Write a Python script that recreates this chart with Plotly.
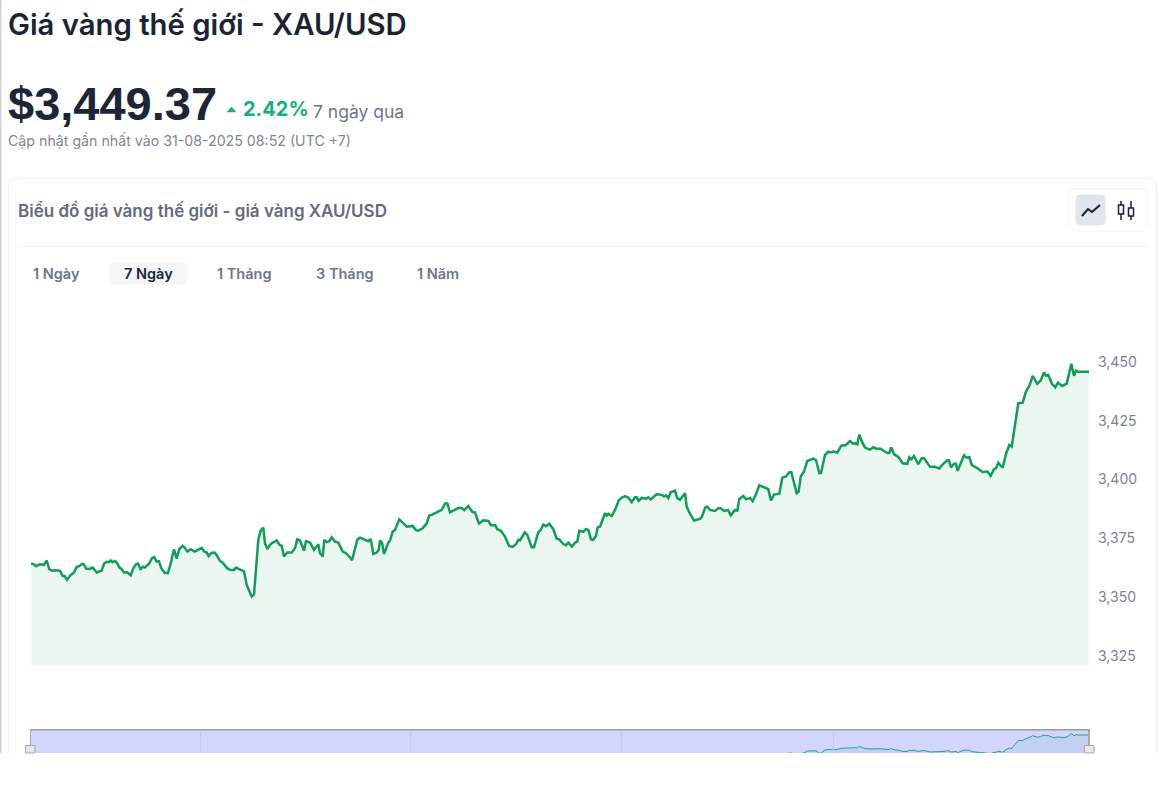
import plotly.graph_objects as go

W, H = 1162, 808

# Elapsed position along the 7-day window (arbitrary time units, 0..1058)
elapsed = [
0,3,5,9,13,15.7,18.3,21,25,29,31.7,33.7,36,39.7,43,45.7,48.3,51,53,55,58.3,61.7,65.7,70.7,73,75.7,78.3,79.7,81.7,84,86.3,88.3,90.7,93,96.3,99.7,102.3,105,107,109.7,111.7,113.7,117.7,121,123,125.7,128,130.3,133.7,137,139.7,143,145.7,148.3,151.7,153.7,156.3,159.7,163.7,168.3,170.7,173,175.7,177.7,180.3,183.7,186.3,189,191.7,196.3,199,203,205,208.3,213,215.7,219,220.7,223,225,227.3,229.7,232.3,234,236.3,239.7,243,245.7,248.3,250.7,253,256.3,260.7,264,266.3,269,273,275,279,283,287.3,289,291.7,293.3,295.7,298.3,300.7,304,307.3,311.7,315,318.3,321,324.3,326.3,329,333,337.3,339.7,342.3,345.7,347.7,349,351,353,357,
359,361.7,364,368.3,371.7,375.7,381.7,385,387.3,391.7,395.7,398.3,400.7,405.7,410.7,414,416.3,419,422.3,427.3,430.7,433.3,437.3,441.3,444,448,452.3,457.3,460,464.3,466.3,469.7,474,478,481.7,485,487.3,489,493.7,496.3,500.7,503,507.3,509.7,512.3,515,518.3,522.3,525.7,528.3,532.3,535,537.3,541,544,546.3,548.3,552.3,555,557.3,560,562.3,565,566.7,569,574,575.7,577.3,580.7,584,587.7,590.7,594,597.3,600.7,604,605.7,607.7,610.7,615,617.3,619.7,625.7,630.7,633,635,637.3,639.7,644,646.3,649,654,655.7,658.3,663,669,671,674.3,676.3,679,684,687.3,689.7,693,697,699.7,704,706.3,708.3,712.3,715,719,721.7,724.7,728.3,
732.3,737.3,740,743,748.3,751.3,755,758.3,760.3,763,765.7,767.7,769.7,773,776.3,782.3,785,788.3,790,794,797.3,799,802.3,806.3,810.3,815,819,821.7,825,826.3,828.3,831,834,839,842.3,845.7,849,856.3,858.3,860.3,863,867.3,871.7,876.3,878.3,880.3,883,887.3,890.7,893,899,904,908.3,911.7,916.3,918,920,923,925,926.7,933,935.7,938.3,940.7,945.7,951.7,956.3,959.7,963,965,967.3,971.7,975,978.3,980.7,987.3,991.7,995,998.3,1001.7,1006.3,1009.7,1013,1015,1017.3,1020.7,1024.3,1027,1031,1035.7,1040.3,1043,1045,1047.3,1058]

price = [
3364.4,3364.0,3363.2,3364.0,3363.7,3365.6,3361.9,3361.3,3361.5,3361.2,3359.0,3359.0,3357.3,3359.5,3360.5,3362.9,3363.2,3364.2,3363.9,3362.2,3362.0,3362.6,3360.5,3361.3,3364.2,3365.1,3365.0,3365.6,3364.9,3365.4,3364.4,3362.7,3361.9,3360.5,3360.6,3359.3,3362.3,3364.0,3364.3,3361.7,3363.0,3362.6,3364.0,3366.6,3367.0,3365.1,3365.3,3362.3,3360.3,3360.3,3364.4,3370.4,3366.4,3370.5,3371.8,3371.1,3369.4,3370.4,3369.4,3370.4,3371.0,3369.5,3369.0,3367.5,3368.8,3369.0,3367.5,3365.4,3364.7,3362.2,3361.7,3361.6,3362.6,3361.9,3361.0,3355.2,3351.4,3350.3,3351.1,3363.0,3374.4,3378.3,3379.6,3372.9,3370.5,3372.6,3373.6,3374.1,3372.4,3371.8,3367.3,3369.0,3369.0,3370.8,3374.6,3374.1,3369.8,3373.8,3373.2,3370.1,3372.5,3368.7,3367.3,3374.4,3373.4,3373.8,3375.5,3373.6,3373.2,3369.4,3368.7,3367.3,3365.7,3370.8,3374.4,3375.3,3374.6,3373.8,3374.8,3368.4,3369.0,3370.1,3374.1,3373.2,3368.3,3372.9,
3374.1,3377.9,3378.6,3383.1,3381.7,3380.0,3380.3,3378.5,3378.3,3379.3,3381.4,3384.8,3385.0,3386.1,3387.1,3389.8,3389.9,3386.1,3386.7,3387.9,3387.9,3387.0,3388.8,3386.3,3386.0,3381.3,3382.7,3382.4,3380.6,3380.6,3378.9,3378.3,3375.8,3371.8,3371.4,3372.5,3374.4,3374.1,3377.6,3376.5,3371.2,3371.2,3377.6,3378.6,3380.9,3380.2,3381.2,3378.9,3374.9,3374.6,3372.6,3372.1,3373.2,3371.5,3373.2,3373.6,3378.2,3377.8,3379.0,3378.6,3374.6,3374.4,3376.1,3379.7,3380.0,3385.7,3384.7,3385.4,3384.5,3387.1,3391.1,3392.3,3393.0,3392.3,3390.4,3392.5,3392.5,3390.9,3392.2,3391.9,3392.5,3391.5,3393.8,3393.5,3392.8,3393.3,3392.1,3394.6,3395.3,3392.1,3391.4,3394.2,3388.5,3386.0,3382.6,3383.3,3384.3,3388.2,3388.5,3387.1,3386.7,3387.8,3387.8,3386.7,3387.1,3384.8,3387.1,3386.8,3391.8,3393.0,3391.6,3392.2,3390.8,3393.5,3397.6,
3396.9,3395.9,3391.1,3393.6,3394.0,3400.8,3401.3,3403.1,3403.1,3398.4,3394.2,3394.9,3401.3,3403.4,3407.9,3408.9,3408.3,3402.7,3402.8,3410.5,3411.9,3411.5,3411.9,3411.5,3414.4,3414.7,3416.4,3415.3,3415.4,3415.0,3419.1,3416.1,3413.6,3412.7,3413.7,3413.0,3413.2,3411.3,3411.3,3413.6,3410.8,3409.6,3406.9,3406.7,3409.5,3408.6,3410.0,3406.5,3409.1,3409.1,3405.4,3405.4,3404.7,3406.5,3408.2,3408.1,3405.2,3406.7,3406.7,3403.7,3410.3,3409.3,3409.6,3406.2,3405.0,3403.1,3403.5,3401.6,3404.4,3404.8,3407.1,3405.0,3410.9,3414.7,3414.0,3432.4,3432.7,3437.4,3439.8,3444.1,3440.7,3442.1,3445.5,3444.1,3444.5,3440.9,3439.2,3441.2,3439.8,3440.8,3449.2,3444.1,3446.3,3445.8,3445.8]

y_ticks = [3325, 3350, 3375, 3400, 3425, 3450]
y_tick_labels = ["3,325", "3,350", "3,375", "3,400", "3,425", "3,450"]
range_tabs = ["1 Ngày", "7 Ngày", "1 Tháng", "3 Tháng", "1 Năm"]

FONT = "Inter"
px = lambda x: x / W
py = lambda y: 1 - y / H

fig = go.Figure()
fig.add_trace(go.Scatter(x=elapsed, y=price, mode="lines", xaxis="x", yaxis="y",
                         line=dict(color="#0f9d58", width=2.5, shape="linear"),
                         fill="tozeroy", fillcolor="#ecf6f1", hoverinfo="skip", showlegend=False))
fig.add_trace(go.Scatter(x=elapsed, y=price, mode="lines", xaxis="x2", yaxis="y2",
                         line=dict(color="#2b9c90", width=1),
                         fill="tozeroy", fillcolor="#c0cff2", hoverinfo="skip", showlegend=False))


def rect(x0, y0, x1, y1, **kw):
    return dict(type="rect", xref="paper", yref="paper", x0=px(x0), x1=px(x1),
                y0=py(y1), y1=py(y0), layer=kw.pop("layer", "below"), **kw)


def rrect(x0, y0, x1, y1, r, fill, line):
    # rounded rectangle drawn in pixel-anchored paper space
    p = (f"M {px(x0+r)} {py(y0)} L {px(x1-r)} {py(y0)} Q {px(x1)} {py(y0)} {px(x1)} {py(y0+r)} "
         f"L {px(x1)} {py(y1-r)} Q {px(x1)} {py(y1)} {px(x1-r)} {py(y1)} "
         f"L {px(x0+r)} {py(y1)} Q {px(x0)} {py(y1)} {px(x0)} {py(y1-r)} "
         f"L {px(x0)} {py(y0+r)} Q {px(x0)} {py(y0)} {px(x0+r)} {py(y0)} Z")
    return dict(type="path", xref="paper", yref="paper", path=p, fillcolor=fill,
                line=dict(color=line, width=1), layer="below")


def poly(pts, color=None, fill=None, width=1.5):
    p = "M " + " L ".join(f"{px(a)} {py(b)}" for a, b in pts)
    if fill:
        p += " Z"
    return dict(type="path", xref="paper", yref="paper", path=p, fillcolor=fill,
                line=dict(color=color or "rgba(0,0,0,0)", width=width), layer="above")


shapes = [
    rect(0, 0, 1.5, 753, fillcolor="#d4d4d4", line_width=0),
    # card: open at the bottom, cut off at the page edge of the photograph
    dict(type="path", xref="paper", yref="paper", layer="below", fillcolor="rgba(0,0,0,0)",
         line=dict(color="#f0f1f6", width=1),
         path=(f"M {px(8.5)} {py(753)} L {px(8.5)} {py(188)} Q {px(8.5)} {py(178.5)} {px(18)} {py(178.5)} "
               f"L {px(1147)} {py(178.5)} Q {px(1156.5)} {py(178.5)} {px(1156.5)} {py(188)} L {px(1156.5)} {py(753)}")),
    rect(18, 246, 1147, 247, fillcolor="#eef0f4", line_width=0),
    rrect(1069, 189, 1147, 231, 6, "#ffffff", "#f0f1f6"),
    rrect(1076, 195, 1105, 225, 4, "#e0e4ec", "#e0e4ec"),
    rrect(110, 263, 187, 284, 5, "#f4f5f7", "#f4f5f7"),
    # line-chart icon
    poly([(1082, 216), (1088, 209), (1092, 212), (1100, 205)], color="#1a1f2b", width=2),
    # candlestick icon
    poly([(1121, 201), (1121, 220)], color="#1a1f2b", width=1.5),
    poly([(1131, 201), (1131, 220)], color="#1a1f2b", width=1.5),
    rect(1118.5, 205, 1123.5, 214, fillcolor="#ffffff", line=dict(color="#1a1f2b", width=1.5), layer="above"),
    rect(1128.5, 208, 1133.5, 216, fillcolor="#ffffff", line=dict(color="#1a1f2b", width=1.5), layer="above"),
    # rising arrow
    poly([(227, 112), (236, 112), (231.5, 107)], color="#10b27a", fill="#10b27a", width=0.5),
    # overview strip
    rect(30, 729, 1089, 753, fillcolor="#d2d6fb", line_width=0),
    rect(30, 729, 1089, 730.5, fillcolor="#9a9a9f", line_width=0, layer="above"),
    rect(30, 729, 31, 753, fillcolor="#a5a7b5", line_width=0, layer="above"),
    rect(1088, 729, 1090, 753, fillcolor="#a5a7b5", line_width=0, layer="above"),
    rect(25.5, 745.5, 35, 753, fillcolor="#e8e8e8", line=dict(color="#a9a9a9", width=1), layer="above"),
    rect(1084.5, 745.5, 1094, 753, fillcolor="#e8e8e8", line=dict(color="#a9a9a9", width=1), layer="above"),
]
for sep in [200, 410, 621, 833]:
    shapes.append(rect(sep, 730, sep + 1, 753, fillcolor="#c4c8ee", line_width=0, layer="above"))


def label(text, x, y, size, color, weight=400, family=FONT):
    return dict(text=text, xref="paper", yref="paper", x=px(x - 2), y=py(y), xanchor="left", yanchor="middle",
                showarrow=False, font=dict(family=family, size=size, color=color, weight=weight))


annotations = [
    label("Giá vàng thế giới - XAU/USD", 8, 24, 29.3, "#1a2433", 600),
    label("$3,449.37", 8, 103, 47, "#1c2636", 700, "Liberation Sans"),
    label("2.42%", 243, 109, 20, "#10b27a", 700),
    label("7 ngày qua", 313, 111, 17.5, "#6f7686", 400),
    label("Cập nhật gần nhất vào 31-08-2025 08:52 (UTC +7)", 8, 141, 14.2, "#7f8592", 400),
    label("Biểu đồ giá vàng thế giới - giá vàng XAU/USD", 18, 210, 17, "#646b7c", 600),
]
tab_x = [33, 124, 217, 316, 417]
for name, x, active in zip(range_tabs, tab_x, [0, 1, 0, 0, 0]):
    annotations.append(label(name, x, 273, 14.5, "#20262f" if active else "#6f7686", 600))

fig.update_layout(
    width=W, height=H, margin=dict(l=0, r=0, t=0, b=0),
    paper_bgcolor="#ffffff", plot_bgcolor="rgba(0,0,0,0)",
    showlegend=False, shapes=shapes, annotations=annotations,
    font=dict(family=FONT),
    xaxis=dict(domain=[px(31), px(1089)], range=[0, 1058], visible=False, fixedrange=True),
    yaxis=dict(domain=[py(665), py(300)], range=[3321.2, 3476.3], side="right", anchor="x",
               tickvals=y_ticks, ticktext=y_tick_labels, showgrid=False, zeroline=False, showline=False,
               ticks="", tickfont=dict(family=FONT, size=14, color="#7c8397"),
               ticklabelstandoff=8, fixedrange=True),
    xaxis2=dict(domain=[px(31), px(1089)], range=[0, 1058], visible=False, anchor="y2", fixedrange=True),
    yaxis2=dict(domain=[py(753), py(729)], range=[3403, 3460], visible=False, anchor="x2", fixedrange=True),
)

fig.write_html("out.html", config={"displayModeBar": False},
               post_script="document.body.style.margin='0';document.body.style.overflow='hidden';")
